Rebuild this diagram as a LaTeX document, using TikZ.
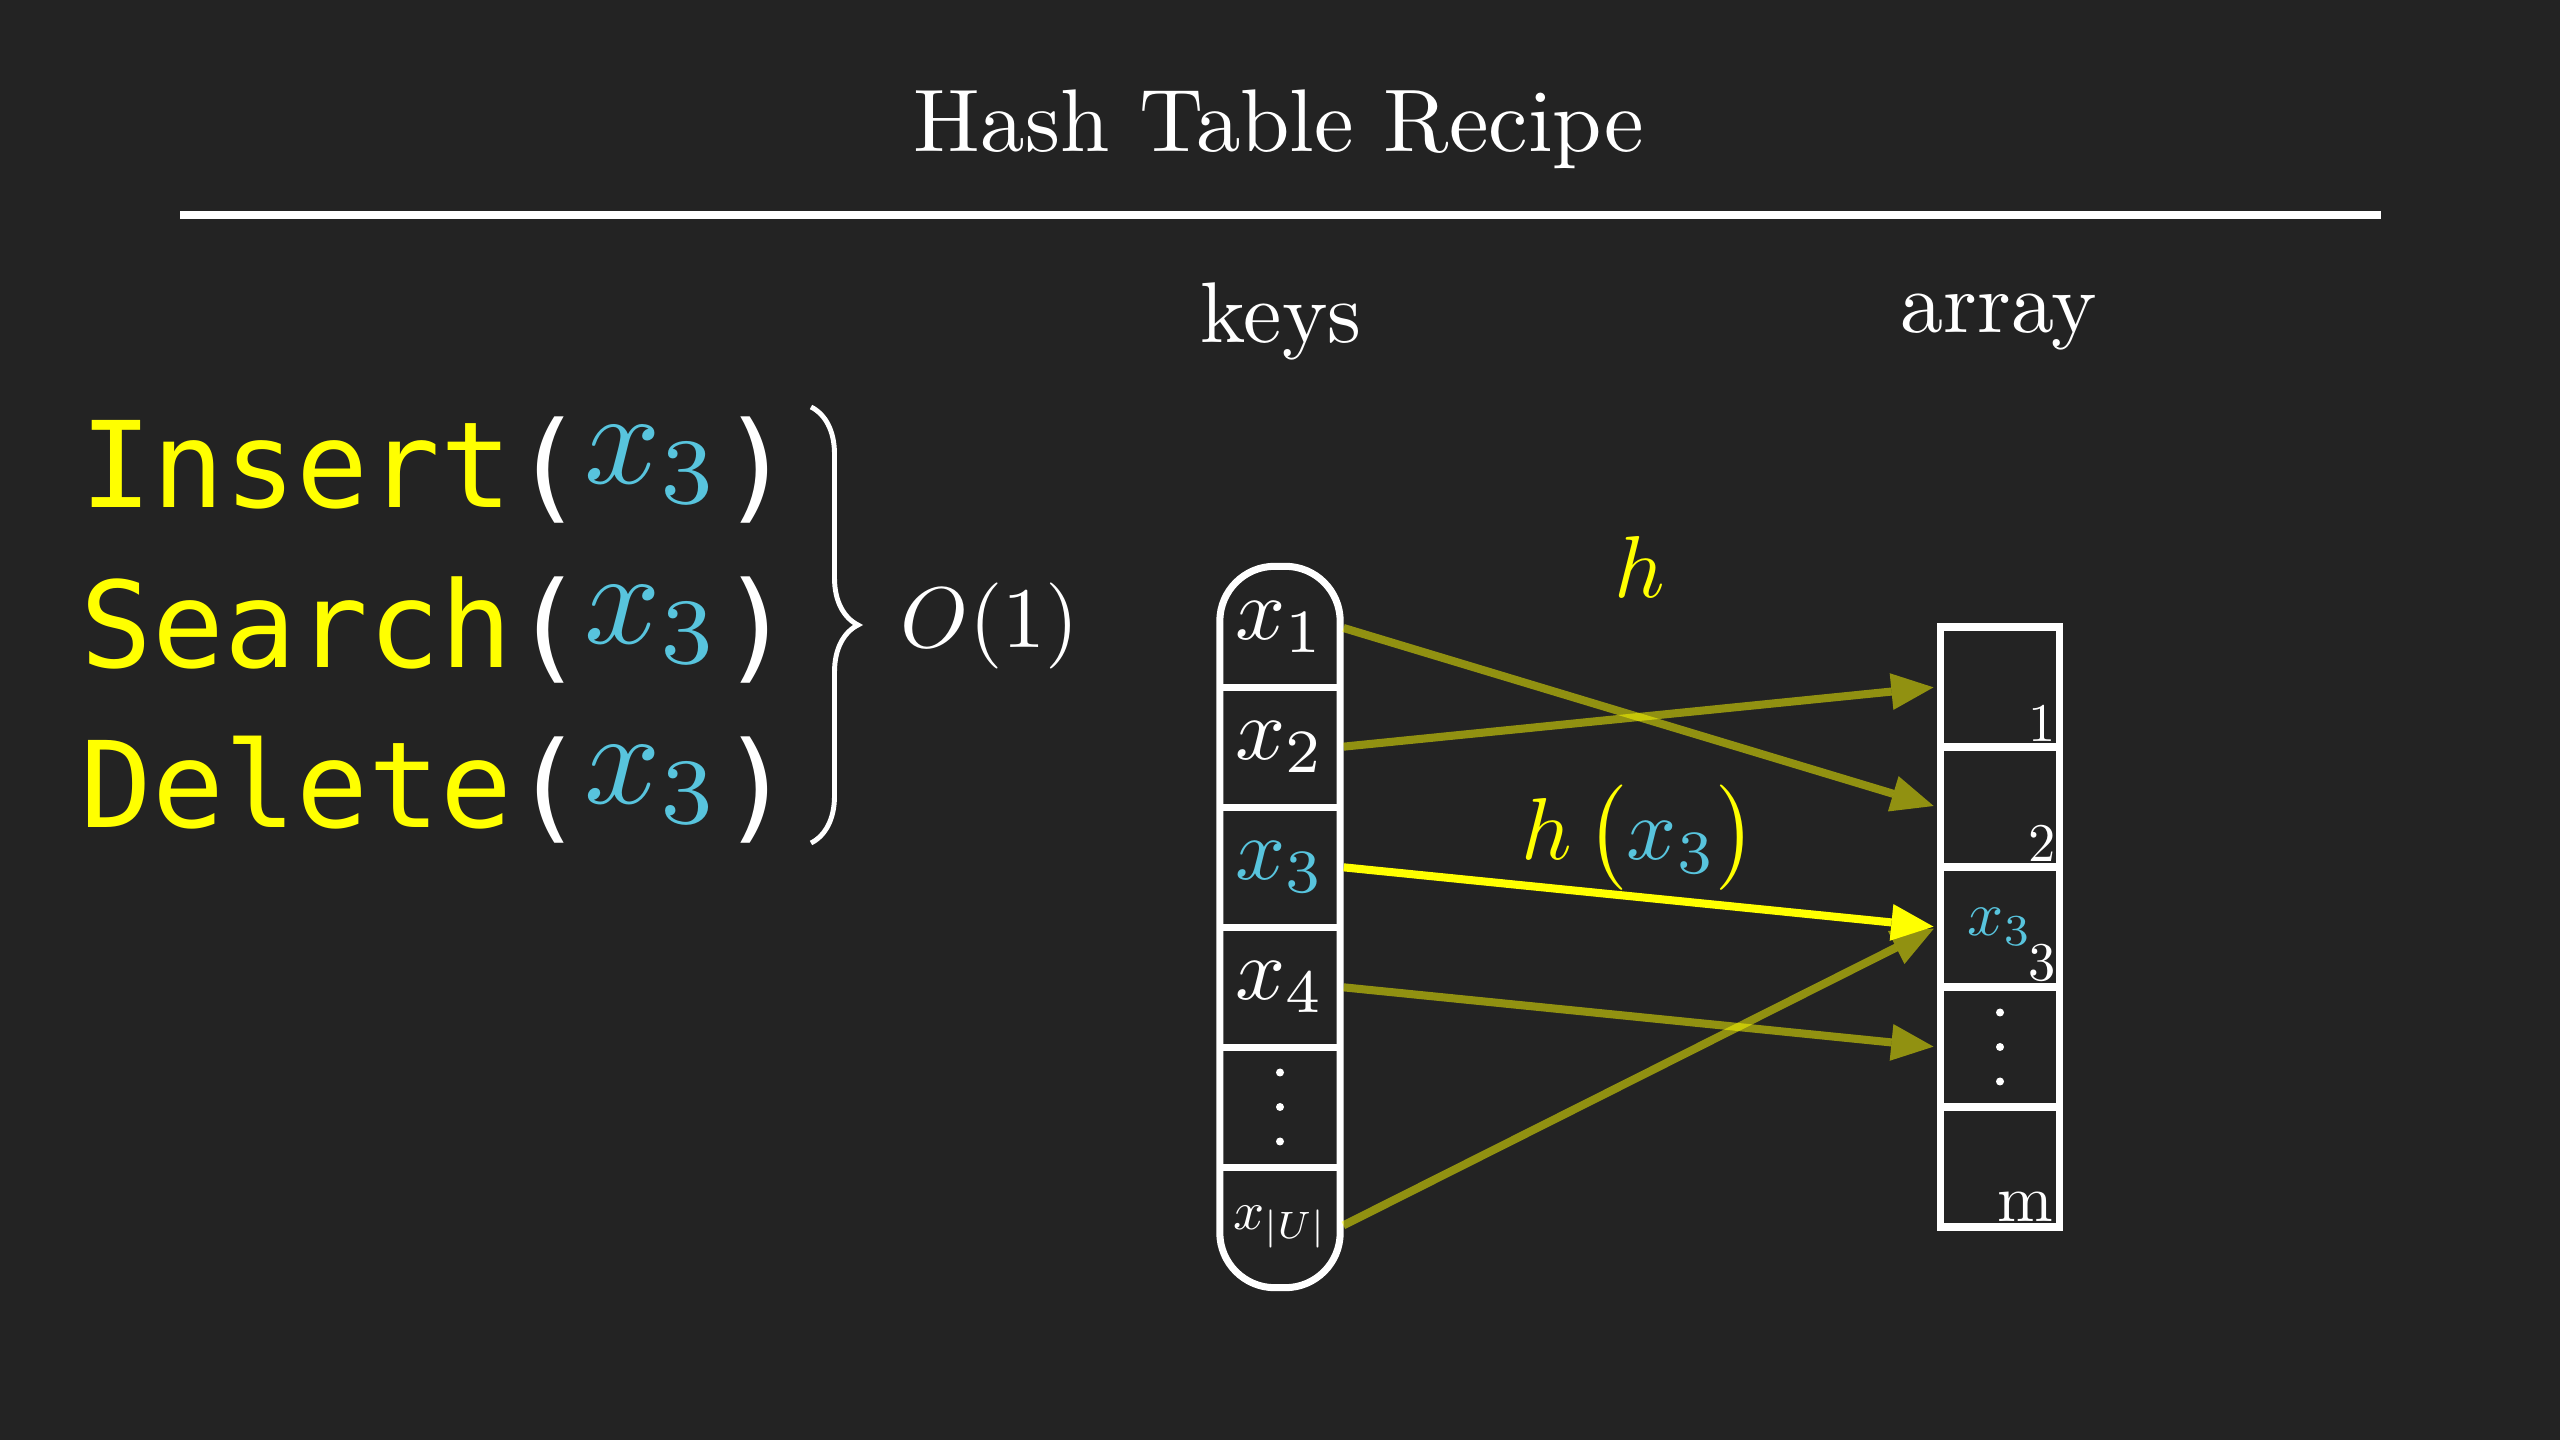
\documentclass[tikz,border=0pt]{standalone}
\usepackage{graphicx}
\usepackage[no-math]{fontspec}
\setmainfont{lmroman10-regular.otf}
\newfontfamily\codefont{DejaVu Sans Mono}
\usetikzlibrary{arrows.meta,decorations.pathreplacing}

\definecolor{bgGray}{HTML}{232323}
\definecolor{hYellow}{HTML}{FFFF00}
\definecolor{hBlue}{HTML}{58C4DD}

\newcommand{\opline}[1]{{\codefont\color{hYellow}#1}{\codefont\color{white}(}\raisebox{7pt}{\scalebox{3.8}{\normalsize$\color{hBlue}x_3$}}{\codefont\color{white})}}

\tikzset{
	keyCell/.style={rectangle, minimum width=1.19cm, minimum height=1.2cm, inner sep=0pt, text=white},
	arrCell/.style={rectangle, draw=white, line width=2pt, minimum width=1.19cm, minimum height=1.2cm, inner sep=0pt, text=white},
	idxLabel/.style={anchor=south east, inner sep=0pt, text=white},
	hashEdge/.style={-{Triangle[length=12pt,width=10.5pt,line width=0pt]}, line width=2.3pt, draw=hYellow, opacity=0.5, shorten <=1pt, shorten >=1pt}
}

\begin{document}
\begin{tikzpicture}[x=1cm,y=1cm]
		\fill[bgGray] (0,0) rectangle (25.6,14.4);
		\useasboundingbox (0,0) rectangle (25.6,14.4);

		% title and rule
		\node[anchor=base, text=white](title) at (12.79,12.88){\scalebox{2.53}{Hash Table Recipe}};
		\draw[white, line width=2pt] (1.80,12.25) -- (23.81,12.25);

		% operations
		\node[anchor=base west, inner sep=0pt, font=\fontsize{34}{40}\selectfont](insertOp) at (0.80,9.32){\opline{Insert}};
		\node[anchor=base west, inner sep=0pt, font=\fontsize{34}{40}\selectfont](searchOp) at (0.80,7.72){\opline{Search}};
		\node[anchor=base west, inner sep=0pt, font=\fontsize{34}{40}\selectfont](deleteOp) at (0.80,6.12){\opline{Delete}};

		\coordinate (braceTop) at (8.11,10.33);
		\coordinate (braceBot) at (8.11,5.97);
		\draw[white, line width=1.4pt, decorate, decoration={brace, amplitude=0.47cm}] (braceTop) -- (braceBot);
		\node[anchor=base, text=white](bigO) at (9.90,7.92){\scalebox{2.45}{$O(1)$}};

		% column titles
		\node[anchor=base, text=white](keysTitle) at (12.81,10.97){\scalebox{2.45}{keys}};
		\node[anchor=base, text=white](arrayTitle) at (19.99,11.07){\scalebox{2.45}{array}};

		% keys column
		\node[keyCell](k1) at (12.80,8.13){\scalebox{2.5}{$x_1$}};
		\node[keyCell](k2) at (12.80,6.93){\scalebox{2.5}{$x_2$}};
		\node[keyCell](k3) at (12.80,5.73){\scalebox{2.5}{$\color{hBlue}x_3$}};
		\node[keyCell](k4) at (12.80,4.53){\scalebox{2.5}{$x_4$}};
		\node[keyCell](k5) at (12.80,3.33){};
		\node[keyCell](k6) at (12.80,2.13){\scalebox{1.55}{$x_{|U|}$}};

		\draw[white, line width=2pt, rounded corners=5.5mm] (k1.north west) rectangle (k6.south east);
		\draw[white, line width=2pt] (k1.south west) -- (k1.south east);
		\draw[white, line width=2pt] (k2.south west) -- (k2.south east);
		\draw[white, line width=2pt] (k3.south west) -- (k3.south east);
		\draw[white, line width=2pt] (k4.south west) -- (k4.south east);
		\draw[white, line width=2pt] (k5.south west) -- (k5.south east);

		\fill[white] ([yshift=0.345cm]k5.center) circle (0.04);
		\fill[white] (k5.center) circle (0.04);
		\fill[white] ([yshift=-0.345cm]k5.center) circle (0.04);

		% array column
		\node[arrCell](a1) at (20.00,7.53){};
		\node[arrCell](a2) at (20.00,6.33){};
		\node[arrCell](a3) at (20.00,5.13){\scalebox{1.8}{$\color{hBlue}x_3$}};
		\node[arrCell](a4) at (20.00,3.93){};
		\node[arrCell](a5) at (20.00,2.73){};

		\fill[white] ([yshift=0.345cm]a4.center) circle (0.04);
		\fill[white] (a4.center) circle (0.04);
		\fill[white] ([yshift=-0.345cm]a4.center) circle (0.04);

		\node[idxLabel](i1) at ([xshift=-0.7mm,yshift=0.8mm]a1.south east){\scalebox{1.55}{1}};
		\node[idxLabel](i2) at ([xshift=-0.7mm,yshift=0.8mm]a2.south east){\scalebox{1.55}{2}};
		\node[idxLabel](i3) at ([xshift=-0.7mm,yshift=0.8mm]a3.south east){\scalebox{1.55}{3}};
		\node[idxLabel](im) at ([xshift=-0.9mm,yshift=0.8mm]a5.south east){\scalebox{1.9}{m}};

		% draw hash edges
		\draw[hashEdge] (k1.east) -- (a2.west);
		\draw[hashEdge] (k2.east) -- (a1.west);
		\draw[hashEdge] (k4.east) -- (a4.west);
		\draw[hashEdge] (k6.east) -- (a3.west);
		\draw[hashEdge, opacity=1] (k3.east) -- (a3.west);

		% hash labels
		\node[anchor=base, text=hYellow](hLabel) at (16.40,8.42){\scalebox{2.5}{$h$}};
		\node[anchor=base, text=hYellow](hxLabel) at (16.39,5.80){\scalebox{2.5}{$h\,\bigl(\textcolor{hBlue}{x_3}\bigr)$}};

	\end{tikzpicture}
\end{document}
